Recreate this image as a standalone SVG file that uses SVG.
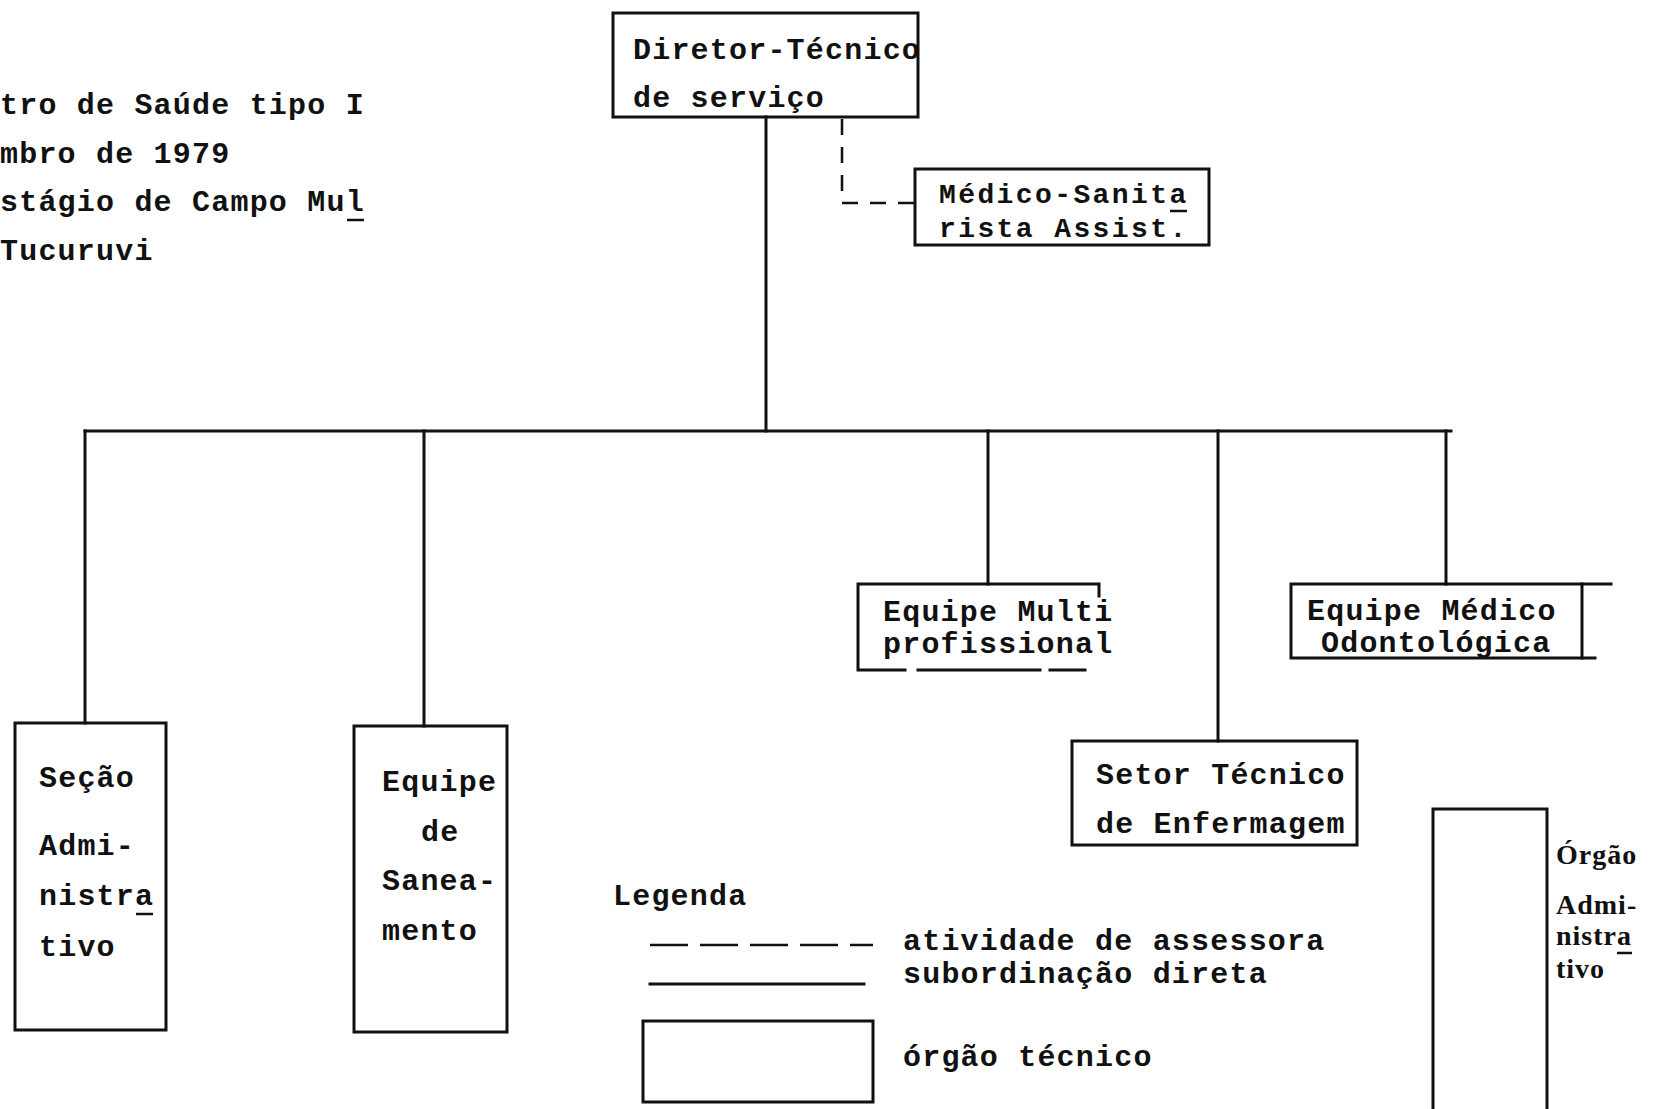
<svg xmlns="http://www.w3.org/2000/svg" width="1673" height="1109" viewBox="0 0 1673 1109">
<style>
  .t{font-family:"Liberation Mono","DejaVu Sans Mono",monospace;font-weight:bold;font-size:30px;letter-spacing:1.2px;fill:#111}
  .tc{font-size:28px;letter-spacing:2.4px}
  .s{font-family:"Liberation Serif","DejaVu Serif",serif;font-weight:bold;font-size:28px;letter-spacing:1px;fill:#111}
  .box{fill:none;stroke:#111;stroke-width:3}
  .ln{fill:none;stroke:#111;stroke-width:3;stroke-linecap:square}
  .dash{fill:none;stroke:#111;stroke-width:2.5;stroke-dasharray:16 12}
  .ldash{fill:none;stroke:#111;stroke-width:2.5;stroke-dasharray:38 12}
  .ul{stroke:#111;stroke-width:2.5}
</style>
<rect width="1673" height="1109" fill="#fff"/>

<g id="header">
  <text class="t" x="0" y="114">tro de Saúde tipo I</text>
  <text class="t" x="0" y="163">mbro de 1979</text>
  <text class="t" x="0" y="211">stágio de Campo Mul</text>
  <line class="ul" x1="347" y1="220" x2="364" y2="220"/>
  <text class="t" x="0" y="260">Tucuruvi</text>
</g>

<g id="connectors">
  <line class="ln" x1="766" y1="117" x2="766" y2="431"/>
  <polyline class="dash" points="842,119 842,203 915,203"/>
  <line class="ln" x1="85" y1="431" x2="1451" y2="431"/>
  <line class="ln" x1="85" y1="431" x2="85" y2="723"/>
  <line class="ln" x1="424" y1="431" x2="424" y2="726"/>
  <line class="ln" x1="988" y1="431" x2="988" y2="584"/>
  <line class="ln" x1="1218" y1="431" x2="1218" y2="741"/>
  <line class="ln" x1="1446" y1="431" x2="1446" y2="584"/>
</g>

<g id="diretor">
  <rect class="box" x="613" y="13" width="305" height="104"/>
  <text class="t" x="633" y="59">Diretor-Técnico</text>
  <text class="t" x="633" y="107">de serviço</text>
</g>

<g id="medico-sanitarista">
  <rect class="box" x="915" y="169" width="294" height="76"/>
  <text class="t tc" x="939" y="203">Médico-Sanita</text>
  <line class="ul" x1="1170" y1="211" x2="1187" y2="211"/>
  <text class="t tc" x="939" y="237">rista Assist.</text>
</g>

<g id="secao-administrativo">
  <rect class="box" x="15" y="723" width="151" height="307"/>
  <text class="t" x="39" y="787">Seção</text>
  <text class="t" x="39" y="855">Admi-</text>
  <text class="t" x="39" y="905">nistra</text>
  <line class="ul" x1="136" y1="914" x2="153" y2="914"/>
  <text class="t" x="39" y="956">tivo</text>
</g>

<g id="equipe-saneamento">
  <rect class="box" x="354" y="726" width="153" height="306"/>
  <text class="t" x="382" y="791">Equipe</text>
  <text class="t" x="421" y="841">de</text>
  <text class="t" x="382" y="890">Sanea-</text>
  <text class="t" x="382" y="940">mento</text>
</g>

<g id="equipe-multiprofissional">
  <polyline class="ln" points="1099,596 1099,584 858,584 858,670 905,670"/>
  <line class="ln" x1="918" y1="670" x2="1040" y2="670" stroke-width="2"/>
  <line class="ln" x1="1050" y1="670" x2="1085" y2="670"/>
  <text class="t" x="883" y="621">Equipe Multi</text>
  <text class="t" x="883" y="653">profissional</text>
</g>

<g id="equipe-medico-odontologica">
  <polyline class="ln" points="1611,584 1291,584 1291,658 1595,658"/>
  <line class="ln" x1="1582" y1="584" x2="1582" y2="658"/>
  <text class="t" x="1307" y="620">Equipe Médico</text>
  <text class="t" x="1321" y="652">Odontológica</text>
</g>

<g id="setor-enfermagem">
  <rect class="box" x="1072" y="741" width="285" height="104"/>
  <text class="t" x="1096" y="784">Setor Técnico</text>
  <text class="t" x="1096" y="833">de Enfermagem</text>
</g>

<g id="legenda">
  <text class="t" x="613" y="905">Legenda</text>
  <line class="ldash" x1="650" y1="945" x2="873" y2="945"/>
  <text class="t" x="903" y="950">atividade de assessora</text>
  <line class="ln" x1="650" y1="984" x2="864" y2="984"/>
  <text class="t" x="903" y="983">subordinação direta</text>
  <rect class="box" x="643" y="1021" width="230" height="81"/>
  <text class="t" x="903" y="1066">órgão técnico</text>
</g>

<g id="orgao-administrativo">
  <polyline class="ln" points="1433,1109 1433,809 1547,809 1547,1109"/>
  <text class="s" x="1556" y="864">Órgão</text>
  <text class="s" x="1556" y="914">Admi-</text>
  <text class="s" x="1556" y="945">nistra</text>
  <line class="ul" x1="1617" y1="953" x2="1632" y2="953"/>
  <text class="s" x="1556" y="978">tivo</text>
</g>
</svg>
